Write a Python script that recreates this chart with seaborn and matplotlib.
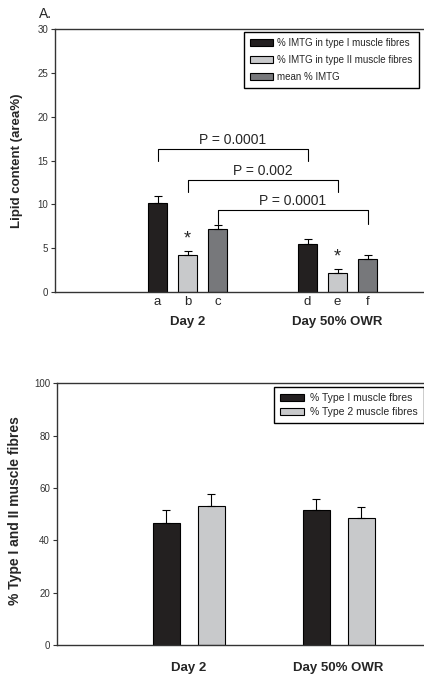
import matplotlib
matplotlib.use('Agg')
import matplotlib.pyplot as plt
import seaborn as sns
import pandas as pd
import numpy as np
from matplotlib.patches import Patch

# Panel A - IMTG lipid content
imtg_labels = ['a', 'b', 'c', 'd', 'e', 'f']
imtg_pos = [0, 1, 2, 5, 6, 7]
imtg_series = ['% IMTG in type I muscle fibres',
               '% IMTG in type II muscle fibres',
               'mean % IMTG']
imtg_mean = [10.2, 4.2, 7.2, 5.5, 2.2, 3.8]
imtg_sem = [0.7, 0.5, 0.45, 0.6, 0.45, 0.45]
days = ['Day 2', 'Day 50% OWR']
star_bars = [1, 4]
star_y = [6.1, 4.0]

# comparisons between the two days
cmp_left = [0, 1, 2]
cmp_right = [3, 4, 5]
cmp_height = [16.3, 12.8, 9.3]
cmp_end = [14.9, 11.4, 7.8]
cmp_text = ['P = 0.0001', 'P = 0.002', 'P = 0.0001']

# Panel B - fibre type distribution
fibre_types = ['% Type I muscle fbres', '% Type 2 muscle fibres']
type1_mean = [46.7, 51.5]
type1_sem = [4.9, 4.2]
type2_mean = [53.1, 48.4]
type2_sem = [4.6, 4.2]

colours = ['#231f20', '#c8c9cb', '#77787b']

sns.set_theme(style='white')
plt.rcParams['font.family'] = ['Liberation Sans', 'DejaVu Sans']

W, H = 424, 675
fig = plt.figure(figsize=(W / 100, H / 100), dpi=100)


def px_axes(left, top, right, bottom):
    return fig.add_axes([left / W, 1 - bottom / H, (right - left) / W, (bottom - top) / H])


def style_axes(ax):
    for s in ['left', 'bottom', 'top']:
        ax.spines[s].set_color('#333333')
        ax.spines[s].set_linewidth(1.0)
    ax.spines['right'].set_visible(False)
    ax.tick_params(axis='y', direction='out', length=3, width=0.8, color='#333333',
                   labelsize=7, labelcolor='#333333', pad=2, left=True)
    ax.tick_params(axis='x', length=0)


# ---------- panel A ----------
ax1 = px_axes(55, 29, 424, 292)
df1 = pd.DataFrame({'pos': imtg_pos, 'val': imtg_mean,
                    'series': imtg_series * 2})
sns.barplot(data=df1, x='pos', y='val', hue='series', dodge=False,
            palette=dict(zip(imtg_series, colours)), native_scale=True,
            width=0.63, edgecolor='black', linewidth=0.8, legend=False, ax=ax1)
ax1.errorbar(imtg_pos, imtg_mean, yerr=[np.zeros(len(imtg_sem)), imtg_sem],
             fmt='none', ecolor='black', elinewidth=0.8, capsize=3.2, capthick=0.8)

for i, j, h, e, t in zip(cmp_left, cmp_right, cmp_height, cmp_end, cmp_text):
    xl, xr = imtg_pos[i], imtg_pos[j]
    ax1.plot([xl, xl, xr, xr], [e, h, h, e], color='black', lw=0.8)
    ax1.text((xl + xr) / 2, h + 1.05, t, ha='center', va='center', fontsize=10)

for b, y in zip(star_bars, star_y):
    ax1.text(imtg_pos[b], y, '*', ha='center', va='center', fontsize=13)

ax1.set_xlim((55 - 157.5) / 30, (424 - 157.5) / 30)
ax1.set_ylim(0, 30)
ax1.set_yticks(range(0, 31, 5))
ax1.set_xticks(imtg_pos)
ax1.set_xticklabels(imtg_labels, fontsize=9.5)
ax1.tick_params(axis='x', pad=3)
ax1.set_xlabel('')
ax1.set_ylabel('')
style_axes(ax1)
for k, d in enumerate(days):
    ax1.text(np.mean(imtg_pos[3 * k:3 * k + 3]), -0.114, d, ha='center', va='center',
             fontsize=9.5, fontweight='bold', transform=ax1.get_xaxis_transform())

handles1 = [Patch(facecolor=c, edgecolor='black', linewidth=0.8) for c in colours]
ax1.legend(handles1, imtg_series, loc='upper right',
           bbox_to_anchor=((419 - 55) / 369, (292 - 32) / 263), fontsize=7,
           frameon=True, fancybox=False, edgecolor='black', framealpha=1,
           handlelength=2.3, handleheight=0.75, labelspacing=0.7,
           handletextpad=0.5, borderpad=0.65, borderaxespad=0)
fig.text(17 / W, 1 - 160.5 / H, 'Lipid content (area%)', rotation=90,
         ha='center', va='center', fontsize=9.5, fontweight='bold')
fig.text(39 / W, 1 - 14 / H, 'A.', ha='left', va='center', fontsize=10)

# ---------- panel B ----------
ax2 = px_axes(57, 383.3, 424, 645)
df2 = pd.DataFrame({'day': days * 2,
                    'pct': type1_mean + type2_mean,
                    'fibre': [fibre_types[0]] * 2 + [fibre_types[1]] * 2})
sns.barplot(data=df2, x='day', y='pct', hue='fibre', hue_order=fibre_types,
            palette=colours[:2], width=0.6, gap=0.4, edgecolor='black',
            linewidth=0.8, legend=False, ax=ax2)
for cont, sem in zip(ax2.containers, [type1_sem, type2_sem]):
    xs = [p.get_x() + p.get_width() / 2 for p in cont.patches]
    ys = [p.get_height() for p in cont.patches]
    ax2.errorbar(xs, ys, yerr=[np.zeros(len(sem)), sem], fmt='none', ecolor='black',
                 elinewidth=0.8, capsize=3, capthick=0.8)

ax2.set_xlim((57 - 188.5) / 150, (424 - 188.5) / 150)
ax2.set_ylim(0, 100)
ax2.set_yticks(range(0, 101, 20))
ax2.set_xticks([0, 1])
ax2.set_xticklabels(days, fontsize=9.5, fontweight='bold')
ax2.tick_params(axis='x', pad=12)
ax2.set_xlabel('')
ax2.set_ylabel('')
style_axes(ax2)

handles2 = [Patch(facecolor=c, edgecolor='black', linewidth=0.8) for c in colours[:2]]
ax2.legend(handles2, fibre_types, loc='upper right',
           bbox_to_anchor=(1.0, (645 - 386.7) / 261.7), fontsize=7.5,
           frameon=True, fancybox=False, edgecolor='black', framealpha=1,
           handlelength=2.3, handleheight=0.7, labelspacing=0.4,
           handletextpad=0.6, borderpad=0.6, borderaxespad=0)
fig.text(15 / W, 1 - 511 / H, '% Type I and II muscle fibres', rotation=90,
         ha='center', va='center', fontsize=10, fontweight='bold')

fig.savefig('out.png', dpi=100)
